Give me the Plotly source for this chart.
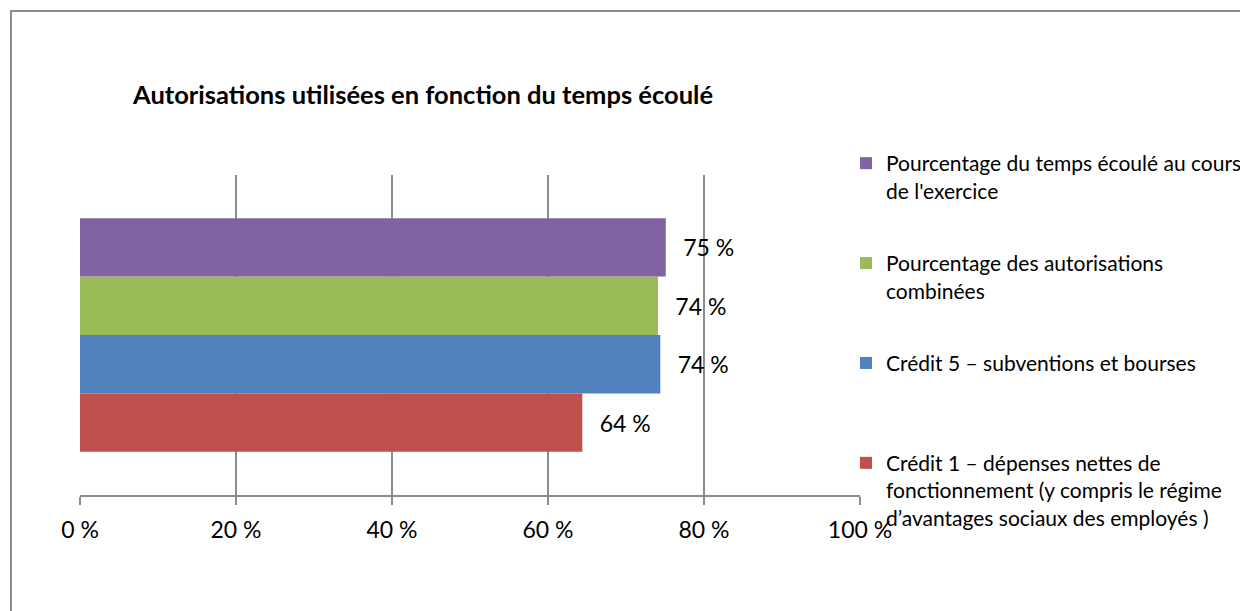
import plotly.graph_objects as go

# Data (bottom to top in the chart)
series_names = [
    "Crédit 1 – dépenses nettes de<br>fonctionnement (y compris le régime<br>d’avantages sociaux des employés )",
    "Crédit 5 – subventions et bourses",
    "Pourcentage des autorisations<br>combinées",
    "Pourcentage du temps écoulé au cours<br>de l'exercice",
]
series_values = [64.4, 74.4, 74.1, 75.1]
series_colors = ["#C0504D", "#4F81BD", "#9BBB59", "#8064A2"]
category = [""]
tick_values = [0, 20, 40, 60, 80, 100]
tick_labels = ["0 %", "20 %", "40 %", "60 %", "80 %", "100 %"]
title_text = "Autorisations utilisées en fonction du temps écoulé"

FONT = "Lato"
OFF = 8  # page body margin offset
W, H = 1248 - OFF, 611 - OFF
PL, PR, PT, PB = 80, 860, 175, 495  # plot area in screen pixels
L, T = PL - OFF, PT - OFF
R = W - L - (PR - PL)
B = H - T - (PB - PT)

fig = go.Figure()
n = len(series_names)
for i, (name, val, col) in enumerate(zip(series_names, series_values, series_colors)):
    nlines = name.count("<br>") + 1
    pad = "<br>\u00a0" * (3 - nlines)
    fig.add_trace(go.Bar(
        y=category, x=[val], name=name + pad, orientation="h",
        legendgroup="g%d" % i, legendrank=n - i,
        marker=dict(color=col, line=dict(width=0)),
        texttemplate="\u2002\u2009%{x:.0f} %", textposition="outside",
        textfont=dict(family=FONT, size=23, color="#000000"),
        cliponaxis=False, hoverinfo="x+name",
    ))

def px_x(p):
    return (p - PL) / (PR - PL)
def px_y(p):
    return (PB - p) / (PB - PT)

fig.add_shape(type="rect", xref="paper", yref="paper",
              x0=px_x(11), x1=px_x(1248 + 20), y0=px_y(611 + 20), y1=px_y(11),
              line=dict(color="#8c8c8c", width=2), fillcolor="rgba(0,0,0,0)", layer="above")

fig.update_layout(
    width=W, height=H,
    margin=dict(l=L, r=R, t=T, b=B, autoexpand=False),
    paper_bgcolor="white", plot_bgcolor="white",
    barmode="group", bargap=0.27, bargroupgap=0,
    font=dict(family=FONT, color="#000000"),
    title=dict(text="<b>" + title_text + "</b>", xref="container", yref="container",
               x=(133 - OFF) / W, xanchor="left", y=1 - (95 - OFF) / H, yanchor="middle",
               font=dict(family=FONT, size=25.5, color="#000000")),
    xaxis=dict(range=[0, 100], tickvals=tick_values, ticktext=tick_labels,
               showgrid=True, gridcolor="#8c8c8c", gridwidth=1.5,
               showline=True, linecolor="#8c8c8c", linewidth=1.5,
               ticks="outside", ticklen=8, tickcolor="#8c8c8c", tickwidth=1.5,
               tickfont=dict(family=FONT, size=23, color="#000000"),
               ticklabelstandoff=6, zeroline=False, fixedrange=True),
    yaxis=dict(showticklabels=False, showgrid=False, zeroline=False, showline=False,
               ticks="", fixedrange=True),
    legend=dict(traceorder="grouped", x=px_x(846), xanchor="left",
                y=px_y(143), yanchor="top", valign="top", maxheight=600,
                font=dict(family=FONT, size=21, color="#000000"),
                bgcolor="rgba(0,0,0,0)", tracegroupgap=15, itemclick=False),
    showlegend=True,
)

fig.write_html("out.html")
